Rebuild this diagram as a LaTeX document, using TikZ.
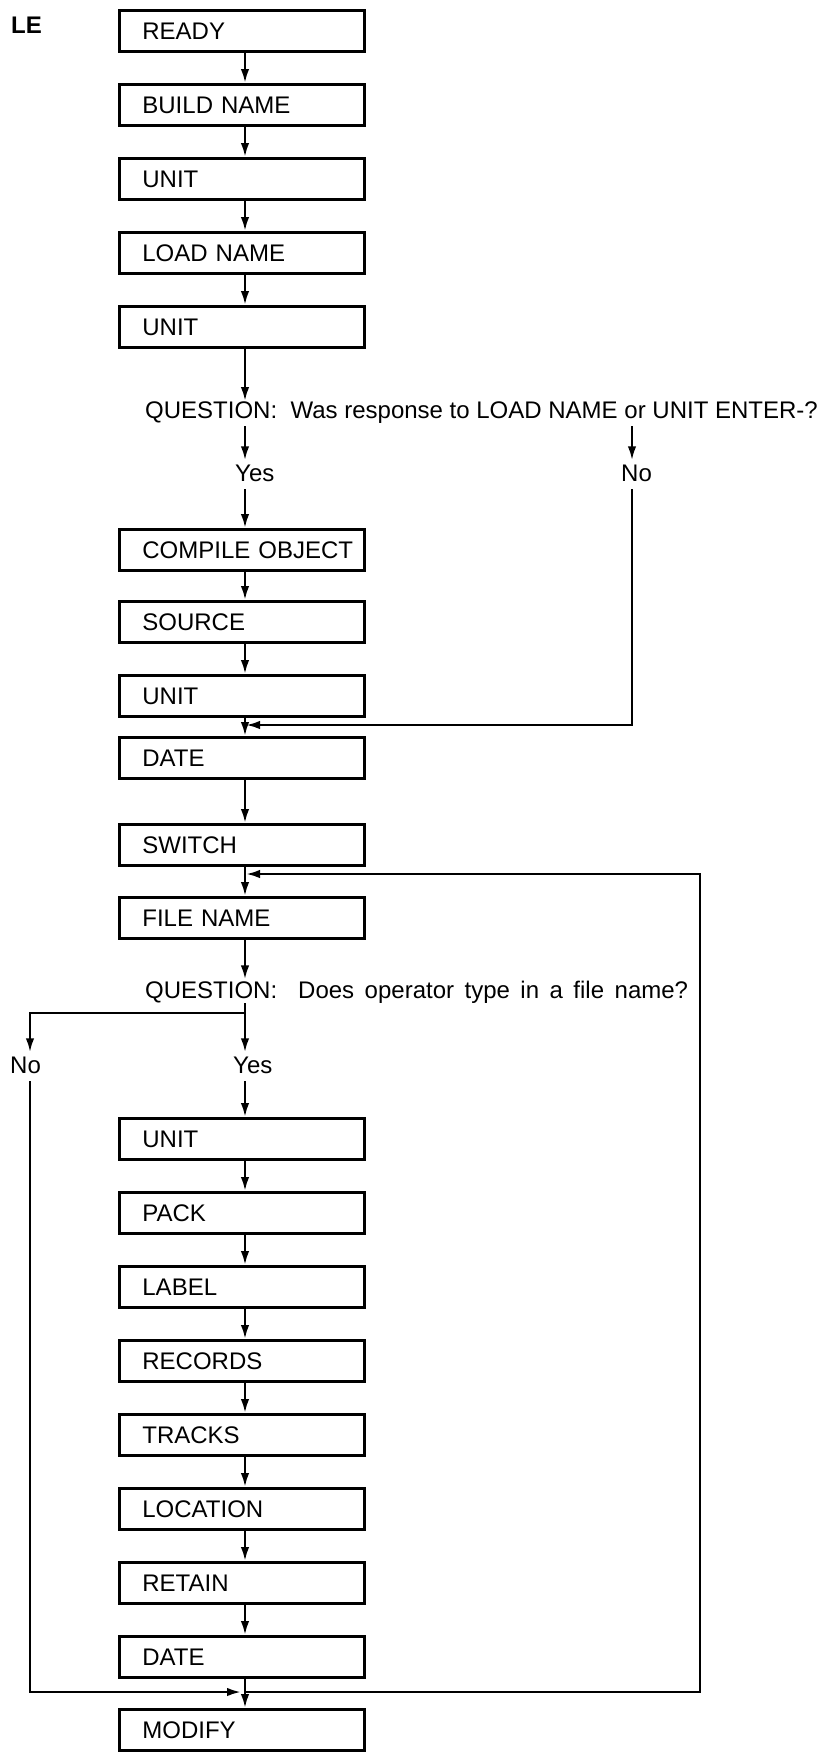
\documentclass[tikz,border=0pt]{standalone}
\usepackage{fontspec}
\setmainfont{Liberation Sans}
\usetikzlibrary{arrows.meta}
\begin{document}
\begin{tikzpicture}[x=1bp,y=-1bp,
  every node/.style={font=\fontsize{24bp}{29bp}\selectfont, inner sep=0pt},
  stepbox/.style={draw, line width=2.8bp, anchor=north west, minimum width=245bp,
    minimum height=41bp, text width=199bp, inner xsep=23bp, text height=17bp,
    text depth=0bp, align=left},
  arr/.style={line width=2.4bp, -{Latex[length=14bp,width=8.5bp]}},
  lbl/.style={anchor=base west}]
\useasboundingbox (0,0) rectangle (838,1752);
\coordinate (cx) at (245,0);
\coordinate (nx) at (632,0);
\coordinate (lx) at (30,0);
\node[anchor=base west, font=\fontsize{24bp}{28bp}\selectfont\bfseries] (le) at (11,33) {LE};
\node[stepbox] (b1) at (118,9) {READY};
\node[stepbox] (b2) at (118,83) {BUILD NAME};
\node[stepbox] (b3) at (118,157) {UNIT};
\node[stepbox] (b4) at (118,231) {LOAD NAME};
\node[stepbox] (b5) at (118,305) {UNIT};
\node[lbl] (q1) at (145,418) {QUESTION:\ \ Was response to LOAD NAME or UNIT ENTER-?};
\node[lbl] (y1) at (235,481) {Yes};
\node[lbl] (n1) at (621,481) {No};
\node[stepbox] (b6) at (118,528) {\mbox{COMPILE OBJECT}};
\node[stepbox] (b7) at (118,600) {SOURCE};
\node[stepbox] (b8) at (118,674) {UNIT};
\node[stepbox] (b9) at (118,736) {DATE};
\node[stepbox] (b10) at (118,823) {SWITCH};
\node[stepbox] (b11) at (118,896) {FILE NAME};
\node[lbl] (q2) at (145,998) {\spaceskip=10.5bp QUESTION:\ \ Does operator type in a file name?};
\node[lbl] (y2) at (233,1073) {Yes};
\node[lbl] (n2) at (10,1073) {No};
\node[stepbox] (b12) at (118,1117) {UNIT};
\node[stepbox] (b13) at (118,1191) {PACK};
\node[stepbox] (b14) at (118,1265) {LABEL};
\node[stepbox] (b15) at (118,1339) {RECORDS};
\node[stepbox] (b16) at (118,1413) {TRACKS};
\node[stepbox] (b17) at (118,1487) {LOCATION};
\node[stepbox] (b18) at (118,1561) {RETAIN};
\node[stepbox] (b19) at (118,1635) {DATE};
\node[stepbox] (b20) at (118,1708) {MODIFY};
\coordinate (m1) at (246,725);
\coordinate (fb) at (246,874);
\coordinate (br) at (245,1013);
\coordinate (mb) at (241,1692);
\coordinate (rb) at (700,1692);
% top chain
\draw[arr] (b1.south -| cx) -- (b2.north -| cx);
\draw[arr] (b2.south -| cx) -- (b3.north -| cx);
\draw[arr] (b3.south -| cx) -- (b4.north -| cx);
\draw[arr] (b4.south -| cx) -- (b5.north -| cx);
\draw[arr] (b5.south -| cx) -- (q1.north -| cx);
\draw[arr] ([yshift=-3bp]q1.south -| cx) -- ([yshift=4bp]y1.north -| cx);
\draw[arr] ([yshift=-3bp]q1.south -| nx) -- ([yshift=4bp]n1.north -| nx);
\draw[arr] ([yshift=-8bp]y1.south -| cx) -- (b6.north -| cx);
\draw[arr] ([yshift=-8bp]n1.south -| nx) |- (m1);
\draw[arr] (b6.south -| cx) -- (b7.north -| cx);
\draw[arr] (b7.south -| cx) -- (b8.north -| cx);
\draw[arr] (b8.south -| cx) -- (b9.north -| cx);
\draw[arr] (b9.south -| cx) -- (b10.north -| cx);
\draw[arr] (b10.south -| cx) -- (b11.north -| cx);
\draw[arr] (b11.south -| cx) -- ([yshift=1bp]q2.north -| cx);
\draw[arr] (q2.south -| cx) -- ([yshift=4bp]y2.north -| cx);
\draw[arr] (br) -| ([yshift=4bp]n2.north -| lx);
\draw[arr] ([yshift=-8bp]y2.south -| cx) -- (b12.north -| cx);
\draw[arr] ([yshift=-8bp]n2.south -| lx) |- (mb);
\draw[arr] (b12.south -| cx) -- (b13.north -| cx);
\draw[arr] (b13.south -| cx) -- (b14.north -| cx);
\draw[arr] (b14.south -| cx) -- (b15.north -| cx);
\draw[arr] (b15.south -| cx) -- (b16.north -| cx);
\draw[arr] (b16.south -| cx) -- (b17.north -| cx);
\draw[arr] (b17.south -| cx) -- (b18.north -| cx);
\draw[arr] (b18.south -| cx) -- (b19.north -| cx);
\draw[arr] (b19.south -| cx) -- (b20.north -| cx);
\draw[arr] (cx |- rb) -- (rb) |- (fb);
\end{tikzpicture}
\end{document}
